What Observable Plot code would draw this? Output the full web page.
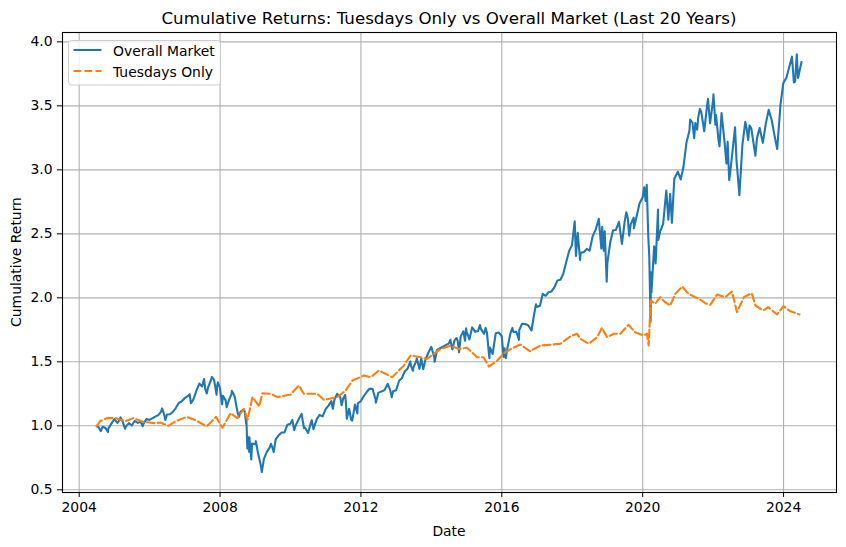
<!DOCTYPE html>
<html><head><meta charset="utf-8">
<script src="https://cdn.jsdelivr.net/npm/d3@7"></script>
<script src="https://cdn.jsdelivr.net/npm/@observablehq/plot@0.6"></script>
<style>
html,body{margin:0;padding:0;background:#fff;}
#wrap{position:relative;width:846px;height:547px;font-family:"DejaVu Sans",sans-serif;}
#overlay{position:absolute;left:0;top:0;pointer-events:none;}
</style></head><body><div id="wrap"></div>
<script>
// ---- data ----
const marketDates = ["2004-07-01","2004-07-20","2004-08-12","2004-08-31","2004-09-30","2004-10-25","2004-10-29","2004-11-30","2004-12-31",
"2005-01-31","2005-02-28","2005-03-04","2005-03-31","2005-04-20","2005-04-29","2005-05-31","2005-06-30","2005-07-29","2005-08-31","2005-09-30","2005-10-21","2005-10-31","2005-11-30","2005-12-30",
"2006-01-31","2006-02-28","2006-03-31","2006-04-28","2006-05-10","2006-05-31","2006-06-13","2006-06-30","2006-07-31","2006-08-31","2006-09-29","2006-10-31","2006-11-30","2006-12-29",
"2007-01-31","2007-02-20","2007-03-05","2007-03-30","2007-04-30","2007-05-31","2007-06-29","2007-07-19","2007-07-31","2007-08-16","2007-08-31","2007-09-28","2007-10-09","2007-10-31","2007-11-26","2007-11-30","2007-12-10","2007-12-31",
"2008-01-22","2008-01-31","2008-02-29","2008-03-10","2008-03-31","2008-04-30","2008-05-02","2008-05-30","2008-06-30","2008-07-15","2008-07-31","2008-08-29","2008-09-12","2008-09-29","2008-09-30","2008-10-10","2008-10-13","2008-10-27","2008-10-31","2008-11-20","2008-11-28","2008-12-31",
"2009-01-06","2009-01-30","2009-02-27","2009-03-09","2009-03-31","2009-04-30","2009-05-29","2009-06-12","2009-06-30","2009-07-10","2009-07-31","2009-08-31","2009-09-30","2009-10-30","2009-11-30","2009-12-31",
"2010-01-19","2010-02-08","2010-02-26","2010-03-31","2010-04-26","2010-04-30","2010-05-20","2010-05-28","2010-07-02","2010-07-30","2010-08-09","2010-08-26","2010-09-30","2010-10-29","2010-11-30","2010-12-31",
"2011-01-31","2011-02-28","2011-03-16","2011-03-31","2011-04-29","2011-05-31","2011-06-15","2011-06-30","2011-07-21","2011-07-29","2011-08-08","2011-08-31","2011-09-22","2011-10-03","2011-10-31","2011-11-25","2011-11-30","2011-12-30",
"2012-01-31","2012-02-29","2012-03-30","2012-04-30","2012-05-31","2012-06-04","2012-06-29","2012-07-31","2012-08-31","2012-10-05","2012-10-31","2012-11-15","2012-11-30","2012-12-31",
"2013-01-31","2013-02-28","2013-03-28","2013-04-30","2013-05-28","2013-05-31","2013-06-24","2013-06-28","2013-07-31","2013-08-02","2013-08-30","2013-09-18","2013-09-30","2013-10-08","2013-10-31","2013-11-29","2013-12-31",
"2014-01-31","2014-02-03","2014-02-28","2014-03-31","2014-04-30","2014-05-30","2014-06-30","2014-07-16","2014-07-31","2014-08-07","2014-08-29","2014-09-19","2014-09-30","2014-10-15","2014-10-31","2014-11-28","2014-12-16","2014-12-26","2014-12-31",
"2015-01-30","2015-02-27","2015-03-31","2015-04-30","2015-05-19","2015-05-29","2015-06-30","2015-07-17","2015-07-31","2015-08-25","2015-08-31","2015-09-28","2015-10-30","2015-11-30","2015-12-31",
"2016-01-20","2016-01-29","2016-02-11","2016-02-29","2016-03-31","2016-04-20","2016-04-29","2016-05-31","2016-06-27","2016-06-30","2016-07-29","2016-08-31","2016-09-30","2016-11-04","2016-11-30","2016-12-20","2016-12-30",
"2017-01-31","2017-02-28","2017-03-31","2017-04-28","2017-05-31","2017-06-30","2017-07-31","2017-08-31","2017-09-29","2017-10-31","2017-11-30","2017-12-29",
"2018-01-26","2018-02-08","2018-02-26","2018-03-23","2018-03-29","2018-04-30","2018-05-31","2018-06-29","2018-07-31","2018-08-31","2018-10-03","2018-10-29","2018-11-07","2018-11-23","2018-12-03","2018-12-24","2018-12-31",
"2019-01-31","2019-02-28","2019-03-29","2019-04-30","2019-05-31","2019-06-28","2019-07-15","2019-07-31","2019-08-14","2019-08-30","2019-09-30","2019-10-02","2019-10-31","2019-11-29","2019-12-31",
"2020-01-17","2020-01-31","2020-02-12","2020-02-28","2020-03-09","2020-03-23","2020-03-26","2020-04-01","2020-04-29","2020-05-14","2020-06-08","2020-06-11","2020-06-30","2020-07-31","2020-09-02","2020-09-23","2020-10-12","2020-10-30","2020-11-24","2020-12-31",
"2021-01-29","2021-02-26","2021-03-31","2021-04-30","2021-05-07","2021-05-31","2021-06-18","2021-06-30","2021-07-19","2021-07-30","2021-08-16","2021-08-31","2021-09-30","2021-10-29","2021-11-08","2021-11-30","2021-12-31",
"2022-01-04","2022-01-24","2022-01-31","2022-02-24","2022-03-08","2022-03-29","2022-04-29","2022-05-19","2022-05-31","2022-06-16","2022-06-30","2022-07-29","2022-08-16","2022-08-31","2022-09-30","2022-10-31","2022-11-30","2022-12-13","2022-12-30",
"2023-01-13","2023-01-31","2023-02-28","2023-03-15","2023-03-31","2023-04-28","2023-05-31","2023-06-30","2023-07-31","2023-08-31","2023-09-29","2023-10-27","2023-11-30","2023-12-29",
"2024-01-31","2024-02-29","2024-03-28","2024-04-17","2024-04-30","2024-05-17","2024-05-30","2024-06-28","2024-07-05"];
const marketValues = [0.995,0.99,0.958,0.993,0.983,0.951,0.978,1.017,1.052,
1.023,1.050,1.067,1.025,0.977,0.994,1.021,1.002,1.038,1.023,1.031,0.997,1.019,1.054,1.046,
1.060,1.072,1.084,1.109,1.136,1.090,1.045,1.088,1.091,1.110,1.139,1.179,1.192,1.216,
1.231,1.247,1.176,1.205,1.274,1.330,1.308,1.366,1.289,1.253,1.303,1.356,1.382,1.359,1.243,1.305,1.339,1.294,
1.168,1.234,1.197,1.145,1.196,1.251,1.274,1.233,1.107,1.070,1.110,1.126,1.114,1.011,1.059,0.824,0.916,0.798,0.910,0.737,0.861,0.856,
0.880,0.781,0.689,0.639,0.742,0.797,0.829,0.859,0.824,0.795,0.895,0.926,0.948,0.948,1.009,1.017,
1.046,0.967,1.007,1.059,1.093,1.074,0.982,0.989,0.945,1.021,1.044,0.974,1.052,1.085,1.074,1.130,
1.160,1.193,1.133,1.202,1.250,1.226,1.161,1.211,1.241,1.185,1.055,1.133,1.047,1.040,1.166,1.096,1.175,1.192,
1.233,1.264,1.289,1.289,1.209,1.181,1.257,1.269,1.277,1.328,1.278,1.224,1.271,1.278,
1.352,1.371,1.422,1.448,1.503,1.475,1.430,1.455,1.512,1.528,1.445,1.529,1.476,1.442,1.517,1.569,1.617,
1.532,1.500,1.592,1.606,1.618,1.631,1.642,1.672,1.616,1.597,1.668,1.686,1.663,1.575,1.697,1.739,1.665,1.761,1.739,
1.675,1.769,1.734,1.741,1.787,1.757,1.719,1.765,1.726,1.528,1.612,1.561,1.723,1.729,1.700,
1.538,1.606,1.528,1.611,1.725,1.765,1.734,1.735,1.672,1.749,1.798,1.795,1.786,1.745,1.866,1.949,1.928,
1.938,2.030,2.016,2.043,2.050,2.083,2.136,2.141,2.186,2.281,2.368,2.412,
2.597,2.328,2.508,2.296,2.352,2.357,2.382,2.368,2.480,2.533,2.617,2.385,2.554,2.369,2.520,2.126,2.276,
2.439,2.528,2.530,2.594,2.421,2.595,2.669,2.621,2.486,2.576,2.626,2.544,2.639,2.737,2.784,
2.863,2.757,2.883,2.479,2.327,1.814,2.200,2.043,2.403,2.268,2.690,2.452,2.518,2.578,2.839,2.611,2.813,2.586,2.931,2.986,
2.925,3.018,3.218,3.305,3.393,3.369,3.248,3.366,3.313,3.408,3.476,3.450,3.302,3.495,3.554,3.364,3.545,
3.590,3.353,3.428,3.241,3.184,3.443,3.217,3.049,3.219,2.920,3.002,3.204,3.332,3.074,2.802,3.193,3.375,3.328,3.234,
3.347,3.325,3.186,3.110,3.246,3.327,3.211,3.357,3.469,3.388,3.269,3.163,3.507,3.677,
3.722,3.804,3.884,3.683,3.689,3.903,3.718,3.817,3.842];

const tuesdayDates = ["2004-07-01","2004-08-10","2004-10-15","2005-01-15","2005-04-25","2005-07-15","2005-11-01","2006-03-01","2006-04-20","2006-07-15","2006-09-25",
"2007-01-20","2007-04-20","2007-08-15","2007-11-20","2008-01-25","2008-04-20","2008-06-28","2008-09-05","2008-10-12","2008-12-02",
"2009-02-10","2009-03-15","2009-06-10","2009-08-18","2010-01-01","2010-03-28","2010-05-19","2010-10-05","2010-12-13",
"2011-05-01","2011-07-27","2011-10-05","2012-02-03","2012-04-12","2012-07-05","2012-11-20","2013-03-20","2013-05-30","2013-09-10","2013-11-15",
"2014-04-05","2014-07-20","2014-10-10","2015-01-05","2015-04-20","2015-06-25","2015-08-20","2015-11-15","2016-01-20","2016-04-01","2016-07-10","2016-10-20",
"2017-02-05","2017-06-05","2017-08-30","2017-12-15","2018-02-20","2018-03-25","2018-06-20","2018-09-15","2018-11-05","2018-12-28",
"2019-03-05","2019-05-15","2019-08-05","2019-10-15","2020-01-10","2020-02-15","2020-03-03","2020-03-24","2020-05-10","2020-07-01","2020-08-20","2020-10-12","2020-12-05",
"2021-02-15","2021-04-20","2021-08-05","2021-10-12","2021-12-01","2022-02-10","2022-05-05","2022-07-15","2022-09-05","2022-11-15",
"2023-02-05","2023-03-15","2023-06-05","2023-07-25","2023-10-25","2024-01-01","2024-03-10","2024-06-15"];
const tuesdayValues = [1.00,1.04,1.06,1.06,1.035,1.06,1.03,1.02,1.026,1.00,1.035,
1.07,1.045,0.995,1.07,0.985,1.098,1.06,1.133,1.047,1.224,
1.151,1.255,1.25,1.224,1.245,1.315,1.25,1.25,1.203,
1.224,1.276,1.354,1.393,1.38,1.432,1.38,1.47,1.55,1.536,1.523,
1.60,1.627,1.60,1.61,1.536,1.536,1.463,1.51,1.565,1.60,1.635,1.583,
1.627,1.635,1.641,1.70,1.719,1.68,1.641,1.692,1.766,1.692,
1.719,1.719,1.789,1.731,1.706,1.719,1.627,1.98,1.953,2.005,1.966,1.94,2.031,
2.088,2.031,1.992,1.958,1.945,2.025,2.005,2.048,1.888,2.005,
2.036,1.94,1.90,1.927,1.87,1.935,1.895,1.87];

const tickYears = [2004, 2008, 2012, 2016, 2020, 2024];
const yTicks = [0.5, 1.0, 1.5, 2.0, 2.5, 3.0, 3.5, 4.0];
const seriesNames = ["Overall Market", "Tuesdays Only"];
const seriesColors = ["#1f77b4", "#ff7f0e"];
const titleText = "Cumulative Returns: Tuesdays Only vs Overall Market (Last 20 Years)";
const xLabel = "Date";
const yLabel = "Cumulative Return";

// ---- build ----
const parse = d3.utcParse("%Y-%m-%d");
const market = marketDates.map((d, i) => ({date: parse(d), value: marketValues[i]}));
const tuesday = tuesdayDates.map((d, i) => ({date: parse(d), value: tuesdayValues[i]}));
const tickDates = tickYears.map(y => new Date(Date.UTC(y, 0, 1)));

const chart = Plot.plot({
  width: 846, height: 547,
  marginLeft: 62, marginRight: 10, marginTop: 32, marginBottom: 55,
  style: {fontFamily: "DejaVu Sans", fontSize: "13.9px", background: "white", color: "black"},
  x: {type: "utc", domain: [parse("2003-07-12"), parse("2025-07-03")]},
  y: {domain: [0.479, 4.073]},
  marks: [
    Plot.gridX(tickDates, {stroke: "#b0b0b0", strokeOpacity: 1, strokeWidth: 1.1}),
    Plot.gridY(yTicks, {stroke: "#b0b0b0", strokeOpacity: 1, strokeWidth: 1.1}),
    Plot.line(market, {x: "date", y: "value", stroke: seriesColors[0], strokeWidth: 2.1}),
    Plot.line(tuesday, {x: "date", y: "value", stroke: seriesColors[1], strokeWidth: 2.1, strokeDasharray: "7.7,3.3"}),
    Plot.frame({stroke: "black", strokeWidth: 1.1}),
    Plot.axisX(tickDates, {tickFormat: d3.utcFormat("%Y"), tickSize: 5, tickPadding: 5, label: null}),
    Plot.axisY(yTicks, {tickFormat: d3.format(".1f"), tickSize: 5, tickPadding: 5, label: null})
  ]
});
const wrap = document.getElementById("wrap");
wrap.appendChild(chart);

// overlay: title, axis labels, legend (real text)
const ns = "http://www.w3.org/2000/svg";
const ov = d3.select(wrap).append("svg").attr("id", "overlay").attr("width", 846).attr("height", 547)
  .style("font-family", "DejaVu Sans");
ov.append("text").attr("x", 449).attr("y", 23.7).attr("text-anchor", "middle").attr("font-size", 16.67).text(titleText);
ov.append("text").attr("x", 449).attr("y", 536).attr("text-anchor", "middle").attr("font-size", 13.9).text(xLabel);
ov.append("text").attr("transform", "translate(21,262) rotate(-90)").attr("text-anchor", "middle").attr("font-size", 13.9).text(yLabel);
const lg = ov.append("g");
lg.append("rect").attr("x", 68.5).attr("y", 40.5).attr("width", 152).attr("height", 44.5).attr("rx", 3)
  .attr("fill", "white").attr("fill-opacity", 0.8).attr("stroke", "#cccccc").attr("stroke-width", 1);
seriesNames.forEach((name, i) => {
  const cy = 50 + i * 21;
  lg.append("line").attr("x1", 73.5).attr("x2", 101.5).attr("y1", cy).attr("y2", cy)
    .attr("stroke", seriesColors[i]).attr("stroke-width", 2.1)
    .attr("stroke-dasharray", i === 1 ? "7.7,3.3" : null);
  lg.append("text").attr("x", 113).attr("y", cy + 6).attr("font-size", 13.9).text(name);
});
</script></body></html>
